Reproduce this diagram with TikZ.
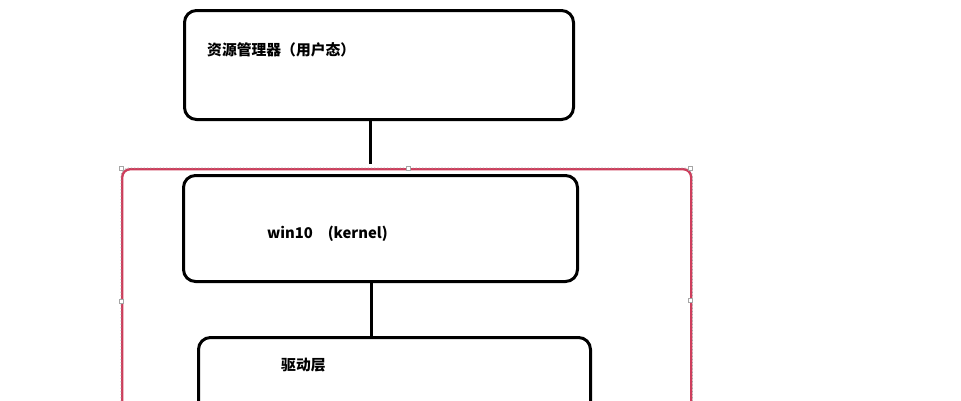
\documentclass[tikz,border=0pt]{standalone}
\usepackage{fontspec}
\newfontfamily\cjk{Noto Sans CJK SC}
\usetikzlibrary{positioning, calc}
\definecolor{selred}{RGB}{205,62,92}
\tikzset{x=1pt, y=-1pt, % one unit is one pixel of the layout
        layer/.style={ % Sets the properties for each layer box
            draw, line width=3pt,
            rounded corners=12pt,
            anchor=north west,
            inner sep=0pt},
        caption/.style={ % Text inside a layer box
            font=\cjk\bfseries\fontsize{14.8}{17}\selectfont,
            anchor=west, inner sep=0pt},
        group/.style={ % Red selection frame round the kernel part
            draw=selred, line width=2.4pt,
            rounded corners=8pt,
            anchor=north west, inner sep=0pt},
        handle/.style={
            draw=gray!70, fill=white, line width=0.4pt,
            minimum size=3.5pt, inner sep=0pt},
        link/.style={ % Connector between the layers
            draw, line width=3pt}
        }
\begin{document}
\begin{tikzpicture}
    \useasboundingbox (0,0) rectangle (961,400);

    % selection frame
    \node[group, minimum width=569pt, minimum height=260pt] (grp) at (121,168) {};
    \draw[gray!70, line width=0.8pt, dash pattern=on 1.2pt off 2pt, rounded corners=8pt]
        (grp.south west) -- (grp.north west) -- (grp.north east) -- (grp.south east);
    \foreach \hx/\hy [count=\i] in {121/168, 408/168, 690/168, 121/301, 690/300}
        \node[handle] (h\i) at (\hx,\hy) {};

    % layers
    \node[layer, minimum width=389pt, minimum height=109pt] (src) at (183,9) {};
    \node[layer, minimum width=394pt, minimum height=106pt] (kern) at (182,174) {};
    \node[layer, minimum width=392pt, minimum height=110pt] (drv) at (197,336) {};

    \node[caption] (srctext) at ($(src.north west)+(24,41)$) {资源管理器（用户态）};
    \node[caption] (kerntext) at ($(kern.north west)+(85,60)$) {win10　(kernel)};
    \node[caption] (drvtext) at ($(drv.north west)+(84,29)$) {驱动层};

    % connectors
    \draw[link, shorten >=4pt] ([xshift=-9pt]src.south) -- ([xshift=-9pt]src.south |- grp.north);
    \draw[link] ([xshift=-9pt]kern.south) -- ([xshift=-9pt]kern.south |- drv.north);
\end{tikzpicture}
\end{document}
